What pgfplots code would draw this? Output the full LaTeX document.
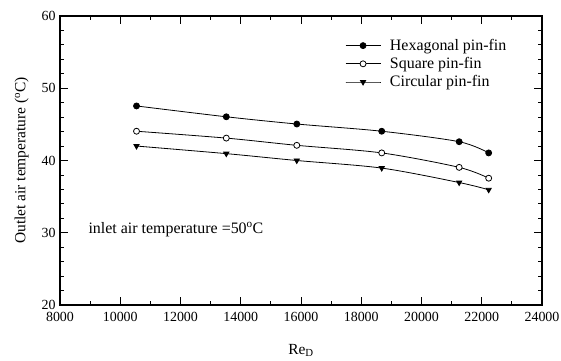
\documentclass[border=0pt]{standalone}
\usepackage{pgfplots}
\pgfplotsset{compat=1.18}
\usepackage{fontspec}
\setmainfont{Liberation Serif}
\begin{document}
\begin{tikzpicture}
\path[use as bounding box] (-60bp,-56bp) rectangle (501bp,305bp);
\begin{axis}[
  at={(0,0)}, anchor=south west,
  width=482bp, height=289bp, scale only axis,
  xmin=8000, xmax=24000, ymin=20, ymax=60,
  xtick={8000,10000,...,24000}, ytick={20,30,...,60},
  minor x tick num=1, minor y tick num=4,
  tick align=inside, tick pos=both,
  major tick length=8bp, minor tick length=4bp,
  axis line style={line width=1.1pt},
  every tick/.style={black, line width=0.9pt},
  scaled x ticks=false,
  /pgf/number format/assume math mode=true,
  /pgf/number format/1000 sep={},
  ticklabel style={font=\fontsize{14}{15}\selectfont},
  xticklabel style={yshift=-6bp, inner ysep=1bp},
  yticklabel style={xshift=-1bp, inner ysep=0pt},
  xlabel={Re\textsubscript{D}}, ylabel={Outlet air temperature ($^{\mathrm{o}}$C)},
  label style={font=\fontsize{15.5}{17}\selectfont},
  xlabel style={yshift=-18bp},
  ylabel style={yshift=6bp},
  legend style={draw=none, fill=none, at={(0.585,0.934)}, anchor=north west,
    font=\fontsize{16}{18}\selectfont, row sep=1.5pt,
    /tikz/every odd column/.append style={column sep=7bp}},
  legend cell align=left,
  legend image code/.code={\draw[mark repeat=2,mark phase=2,#1] plot coordinates {(0bp,0bp) (17.5bp,0bp) (35bp,0bp)};},
  every axis plot/.append style={black, line width=0.8pt, smooth, mark size=3bp},
]
\addplot[mark=*, mark options={fill=black}] coordinates {
(10540,47.55) (13520,46.05) (15860,45.05) (18680,44.05) (21250,42.6) (22230,41.05)};
\addlegendentry{Hexagonal pin-fin}
\addplot[mark=*, mark options={fill=white}] coordinates {
(10540,44.05) (13520,43.1) (15860,42.1) (18680,41.05) (21250,39.05) (22230,37.55)};
\addlegendentry{Square pin-fin}
\addplot[mark=triangle*, mark options={fill=black, rotate=180}] coordinates {
(10540,42.0) (13520,40.95) (15860,40.0) (18680,38.95) (21250,36.95) (22230,35.95)};
\addlegendentry{Circular pin-fin}
\node[anchor=west, inner sep=0pt, font=\fontsize{16}{18}\selectfont] at (axis cs:8940,30.4) {inlet air temperature =50$^{\mathrm{o}}$C};
\end{axis}
\end{tikzpicture}
\end{document}
